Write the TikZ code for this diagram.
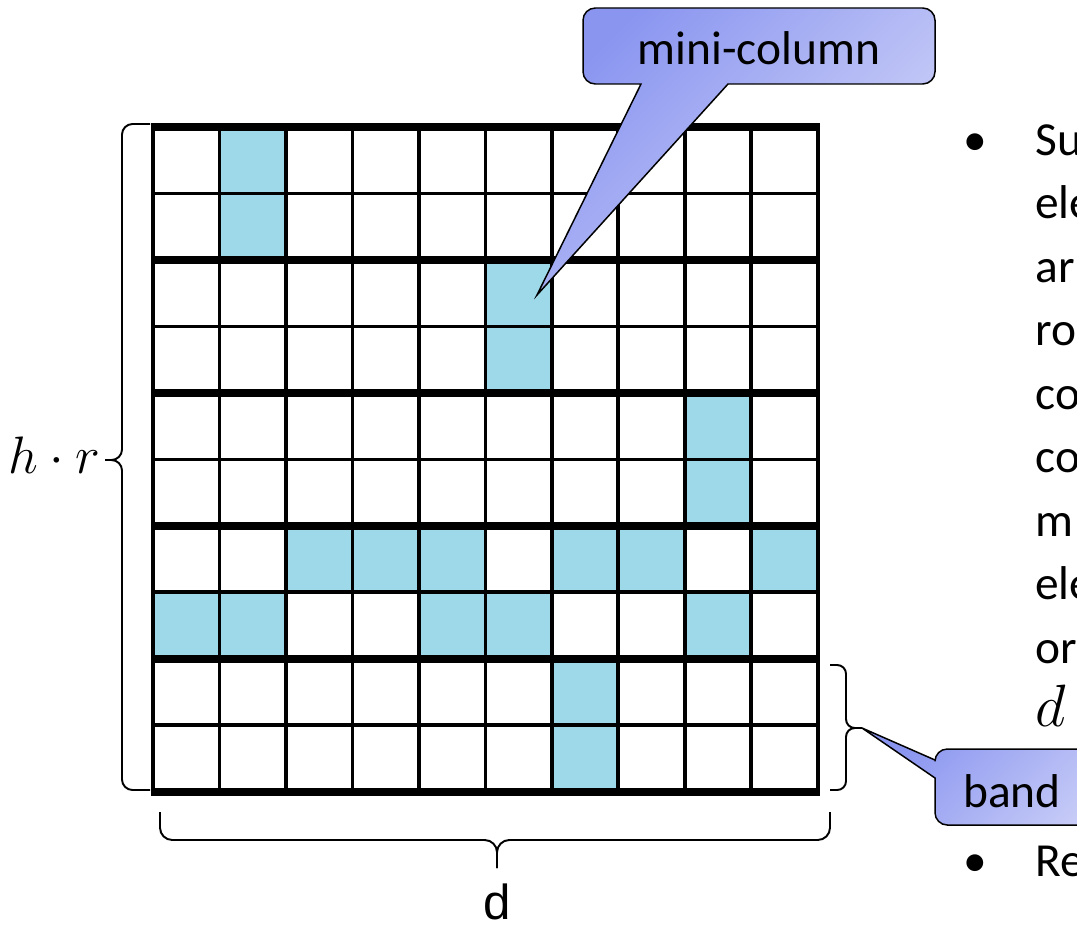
\RequirePackage{fix-cm}
\documentclass[tikz,border=0pt]{standalone}
\usepackage{fontspec}
\setmainfont{Carlito}
\newfontfamily\arialfont{Liberation Sans}

\definecolor{cellblue}{RGB}{157,217,233}
\definecolor{calloutdark}{RGB}{138,149,240}
\definecolor{calloutlight}{RGB}{210,214,248}

\tikzset{
  gridline/.style={line width=2.2pt},
  bandline/.style={line width=4.6pt, shorten <=-1.1pt, shorten >=-1.1pt},
  bracket/.style={line width=1.1pt, rounded corners=#1},
  callout/.style={draw=black, line width=0.85pt, top color=calloutdark, bottom color=calloutlight, shading angle=45},
  calltext/.style={font=\fontsize{27}{32}\selectfont, inner sep=0pt, anchor=base},
  bodytext/.style={font=\fontsize{27}{32}\selectfont, inner sep=0pt, anchor=base west},
}

\begin{document}
\begin{tikzpicture}[x=0.02cm, y=-0.02cm]
  \useasboundingbox (0,0) rectangle (1077,926);
  \clip (0,0) rectangle (1077,926);

  % Cells of the matrix
  \begin{scope}[shift={(153,127)}, x=1.33cm, y=-1.33cm]
    \foreach \c/\r in {1/0,1/1,5/2,5/3,8/4,8/5,2/6,3/6,4/6,6/6,7/6,9/6,0/7,1/7,4/7,5/7,8/7,6/8,6/9}
      \fill[cellblue] (\c,\r) rectangle ++(1,1);
    \foreach \r in {1,3,...,9}
      \draw[gridline] (0,\r) -- (10,\r);
    \foreach \c in {0,...,10}
      \draw[gridline] (\c,0) -- (\c,10);
    % Band borders
    \foreach \r in {0,2,...,10}
      \draw[bandline] (0,\r) -- (10,\r);
  \end{scope}

  % Braces
  \draw[bracket=6pt] (150,124) -- (122,124) -- (122,460) -- (105,460);
  \draw[bracket=6pt] (150,790) -- (122,790) -- (122,460) -- (105,460);
  \draw[bracket=7pt] (160,812) -- (160,840) -- (497,840) -- (497,868);
  \draw[bracket=7pt] (830,812) -- (830,840) -- (497,840) -- (497,868);
  \draw[bracket=5pt] (830,665) -- (846,665) -- (846,728) -- (862,728);
  \draw[bracket=5pt] (830,790) -- (846,790) -- (846,728) -- (862,728);

  \node[anchor=base east, inner sep=0pt, font=\fontsize{30}{36}\selectfont] (hr) at (101,473) {$h\cdot r$};
  \node[anchor=base, inner sep=0pt, font=\arialfont\fontsize{28}{32}\selectfont] (dlab) at (497,919) {d};

  % Callouts
  \coordinate (mctip) at (537,295);
  \path[callout] (mctip) -- (641,84) [rounded corners=7pt] -- (583,84) -- (583,8) -- (935,8) -- (935,84) [sharp corners] -- (728,84) -- cycle;
  \node[calltext] (minicol) at (759,65) {mini-column};

  \coordinate (bandtip) at (862,728);
  \path[callout] (bandtip) -- (935,778) [rounded corners=7pt] -- (935,825) -- (1180,825) -- (1180,749) -- (935,749) [sharp corners] -- (935,760) -- cycle;
  \node[calltext, anchor=base west] (band) at (963,807) {band};

  % Text on the right
  \foreach \t [count=\k from 0] in {Su,ele,ar,ro,co,co,m,ele,or,{\fontsize{34}{40}\selectfont$d$}}
    \node[bodytext] (line\k) at (1035,{155+63.5*\k}) {\t};
  \node[bodytext] (rest) at (1035,876) {Re};
  \node[calltext] (bullet1) at (975,155) {•};
  \node[calltext] (bullet2) at (975,876) {•};
\end{tikzpicture}
\end{document}
